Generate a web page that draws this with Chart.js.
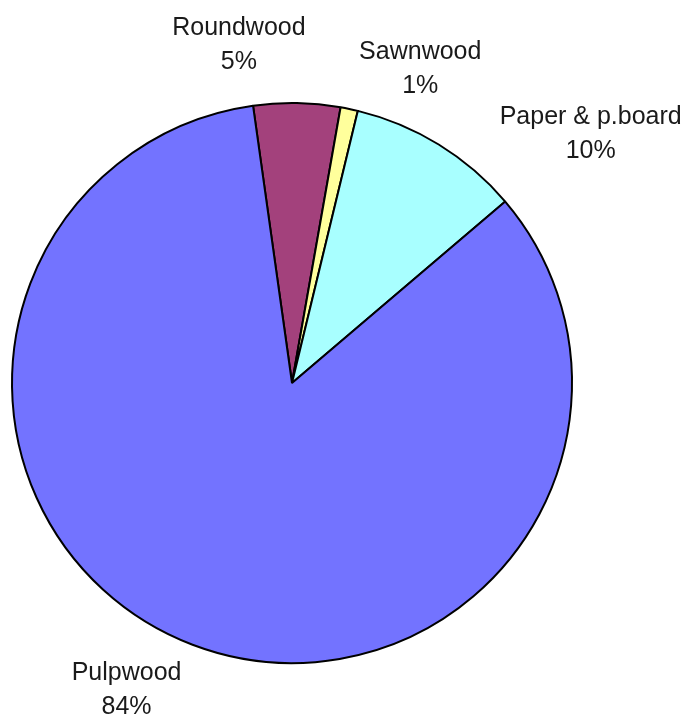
<!DOCTYPE html>
<html>
<head>
<meta charset="utf-8">
<title>Wood products</title>
<script src="https://cdn.jsdelivr.net/npm/chart.js@4/dist/chart.umd.min.js"></script>
<style>
    html, body { margin: 0; padding: 0; background: #ffffff; }
    canvas { display: block; }
</style>
</head>
<body>
<canvas id="pieChart" width="688" height="718"></canvas>
<script>
// ---------------------------------------------------------------
// Data
// ---------------------------------------------------------------
const productLabels = ['Roundwood', 'Sawnwood', 'Paper & p.board', 'Pulpwood'];
const productShares = [5, 1, 10, 84];

// Slice fills, same order as the labels
const SLICE_COLORS = ['#a3417c', '#ffff9c', '#a8ffff', '#7373ff'];

// ---------------------------------------------------------------
// Two-line labels (name + percent) drawn outside each slice
// ---------------------------------------------------------------
const outsideLabels = {
    id: 'outsideLabels',
    afterDatasetsDraw(chart, args, opts) {
        const ctx = chart.ctx;
        const meta = chart.getDatasetMeta(0);
        const values = chart.data.datasets[0].data;
        const total = values.reduce((a, b) => a + b, 0);

        ctx.save();
        ctx.font = opts.font;
        ctx.fillStyle = opts.color;
        ctx.textAlign = 'center';
        ctx.textBaseline = 'middle';

        meta.data.forEach((arc, i) => {
            const mid = (arc.startAngle + arc.endAngle) / 2;
            const nudge = opts.nudge[i] || [0, 0];
            const cx = arc.x + Math.cos(mid) * arc.outerRadius + nudge[0];
            const cy = arc.y + Math.sin(mid) * arc.outerRadius + nudge[1];
            const pct = Math.round(values[i] / total * 100) + '%';

            ctx.fillText(chart.data.labels[i], cx, cy - opts.lineGap / 2);
            ctx.fillText(pct, cx, cy + opts.lineGap / 2);
        });
        ctx.restore();
    }
};

const ctx = document.getElementById('pieChart').getContext('2d');
new Chart(ctx, {
    type: 'pie',
    data: {
        labels: productLabels,
        datasets: [{
            data: productShares,
            backgroundColor: SLICE_COLORS,
            borderColor: '#000000',
            borderWidth: 2,
            rotation: -8,
            radius: 280
        }]
    },
    options: {
        responsive: false,
        animation: false,
        layout: {
            padding: { left: 0, right: 104, top: 48, bottom: 0 }
        },
        plugins: {
            legend: { display: false },
            tooltip: { enabled: false },
            outsideLabels: {
                font: '25px "Liberation Sans", Arial, sans-serif',
                color: '#1a1a1a',
                lineGap: 34,
                nudge: [[-58, -58], [71, -40], [152, -10], [-66, 45]]
            }
        }
    },
    plugins: [outsideLabels]
});
</script>
</body>
</html>
